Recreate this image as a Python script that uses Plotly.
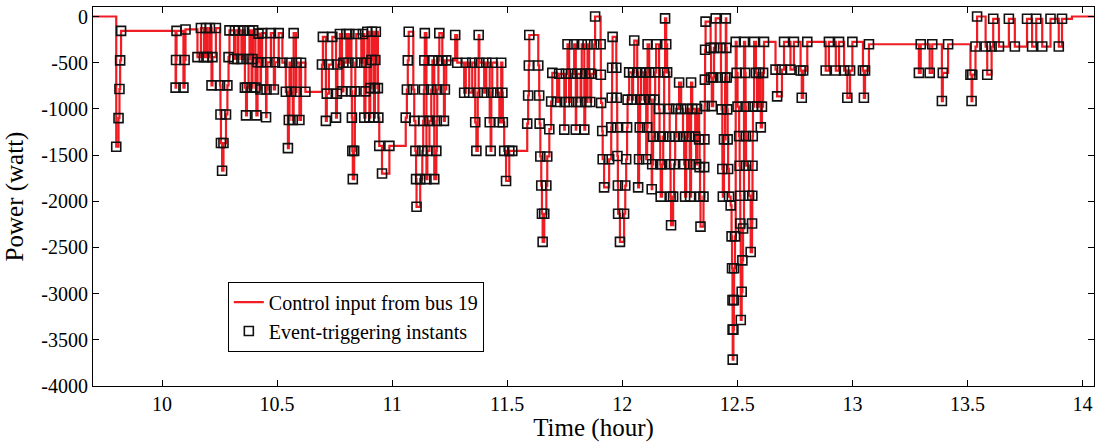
import plotly.graph_objects as go

# Event-triggering instants of the control input (hour, watt), one row per burst
trigger_hour = [
    9.801, 9.811, 9.815, 9.818, 9.822,
    10.059, 10.061, 10.063,
    10.093, 10.098, 10.102,
    10.154, 10.169,
    10.182, 10.191,
    10.198, 10.208,
    10.215, 10.219, 10.234,
    10.252, 10.254, 10.256, 10.261, 10.267, 10.278, 10.284, 10.289, 10.293,
    10.313, 10.317,
    10.328, 10.332,
    10.345, 10.352,
    10.360, 10.365, 10.369, 10.376, 10.380,
    10.389, 10.393, 10.396,
    10.406, 10.410, 10.415, 10.419,
    10.428, 10.430, 10.435,
    10.452, 10.454, 10.458, 10.473,
    10.486, 10.491, 10.507,
    10.523, 10.538, 10.547, 10.551, 10.554, 10.561, 10.568, 10.572, 10.582, 10.584, 10.597, 10.604, 10.623,
    10.695, 10.699,
    10.712, 10.716, 10.725, 10.740,
    10.756, 10.760, 10.762, 10.773,
    10.782, 10.788, 10.801,
    10.810, 10.814,
    10.823, 10.825, 10.827, 10.829, 10.835, 10.838, 10.840, 10.844,
    10.866, 10.873,
    10.879, 10.884, 10.888, 10.892,
    10.901, 10.905, 10.910, 10.912,
    10.921, 10.925, 10.927, 10.929,
    10.938, 10.940, 10.944, 10.956, 10.988,
    11.059, 11.064, 11.068, 11.072,
    11.092, 11.096, 11.101, 11.104, 11.106, 11.122, 11.131, 11.135, 11.138, 11.140, 11.142,
    11.149, 11.153, 11.162, 11.170, 11.175,
    11.183, 11.192, 11.194, 11.196, 11.201, 11.205,
    11.218, 11.225, 11.229, 11.235, 11.274,
    11.283, 11.313, 11.320, 11.335, 11.348, 11.361, 11.366, 11.372, 11.376, 11.379, 11.400, 11.409,
    11.424, 11.428, 11.431, 11.435, 11.457, 11.466, 11.474, 11.479, 11.481, 11.487, 11.495, 11.509, 11.522,
    11.587, 11.591, 11.594, 11.596,
    11.635, 11.639, 11.641, 11.644, 11.648, 11.651, 11.654, 11.661, 11.670, 11.674, 11.683, 11.691, 11.696,
    11.717, 11.726, 11.748, 11.750, 11.755, 11.762, 11.769, 11.777, 11.791, 11.798, 11.800, 11.804,
    11.819, 11.822, 11.824, 11.835, 11.839, 11.845, 11.849, 11.856, 11.861, 11.865, 11.878, 11.882,
    11.906, 11.907, 11.908, 11.913, 11.915, 11.921, 11.943, 11.952, 11.954, 11.956, 11.958, 11.974,
    11.976, 11.978, 11.979, 11.981, 11.982, 11.990, 12.008, 12.013, 12.017, 12.021, 12.023, 12.030,
    12.043, 12.047, 12.052,
    12.065, 12.069, 12.073, 12.076, 12.078, 12.082,
    12.095, 12.099, 12.104, 12.108, 12.110,
    12.117, 12.121, 12.128, 12.130, 12.134, 12.139, 12.143, 12.147,
    12.160, 12.162, 12.165, 12.167, 12.173, 12.178, 12.182, 12.186,
    12.191, 12.195, 12.204, 12.206, 12.208, 12.210, 12.212, 12.221, 12.225, 12.230, 12.234,
    12.247, 12.256, 12.264, 12.269, 12.273, 12.278, 12.282, 12.291, 12.293, 12.295, 12.299, 12.304, 12.317, 12.321, 12.325,
    12.334, 12.336, 12.338, 12.340, 12.353, 12.356, 12.357, 12.358, 12.359, 12.360, 12.362,
    12.384, 12.386, 12.389, 12.395, 12.399, 12.406,
    12.427, 12.429, 12.432, 12.435, 12.437, 12.442, 12.447, 12.450,
    12.452, 12.454, 12.456, 12.458, 12.460, 12.464, 12.471, 12.475, 12.477, 12.479, 12.4795, 12.480,
    12.483, 12.485, 12.486, 12.490, 12.493,
    12.497, 12.501, 12.508, 12.510, 12.512, 12.513, 12.515, 12.519, 12.522, 12.525, 12.529,
    12.534, 12.536, 12.537, 12.538, 12.551, 12.558, 12.564, 12.565, 12.566, 12.567, 12.568, 12.573,
    12.581, 12.586, 12.594, 12.602, 12.607, 12.612, 12.616,
    12.666, 12.673, 12.694, 12.703,
    12.731, 12.746,
    12.775, 12.780, 12.786, 12.804,
    12.884, 12.898,
    12.928, 12.942,
    12.964, 12.978, 12.990, 13.000,
    13.046, 13.050, 13.055, 13.072,
    13.289, 13.297,
    13.336, 13.347,
    13.389, 13.393, 13.416,
    13.513, 13.518, 13.521, 13.535, 13.542,
    13.579, 13.586, 13.605, 13.612,
    13.637, 13.680,
    13.706, 13.759,
    13.781, 13.799,
    13.825, 13.861,
    13.897, 13.911,
]

trigger_watt = [
    -1410, -1100, -785, -475, -155,
    -770, -470, -155,
    -770, -470, -140,
    -440, -125,
    -440, -125,
    -440, -125,
    -745, -440, -125,
    -745, -1060, -1370, -1670, -1370, -1060, -745, -440, -150,
    -460, -150,
    -460, -150,
    -460, -150,
    -770, -1070, -770, -460, -150,
    -770, -460, -150,
    -770, -1070, -495, -185,
    -790, -495, -180,
    -1090, -790, -495, -180,
    -790, -495, -180,
    -500, -815, -1425, -1120, -500, -815, -1120, -180, -815, -500, -1120, -500, -815,
    -520, -220,
    -1130, -835, -520, -220,
    -1095, -835, -520, -190,
    -810, -500, -190,
    -500, -190,
    -810, -1095, -1455, -1760, -1455, -810, -500, -190,
    -500, -190,
    -1095, -810, -500, -165,
    -1095, -775, -470, -165,
    -1095, -775, -470, -165,
    -775, -1095, -1400, -1700, -1400,
    -1095, -790, -475, -165,
    -790, -1130, -1455, -1760, -2060, -1760, -1455, -1130, -790, -475, -180,
    -1760, -1455, -1130, -790, -475,
    -1760, -1455, -1130, -790, -475, -180,
    -475, -1130, -790, -475, -200,
    -500, -825, -500, -825, -500, -1145, -1455, -825, -200, -500, -825, -500,
    -1145, -1455, -825, -500, -825, -1145, -500, -825, -1145, -1455, -1780, -1455, -1455,
    -1160, -855, -530, -200,
    -530, -855, -1160, -1515, -1830, -2135, -2440, -2135, -1830, -1515, -1220, -920, -610,
    -925, -620, -1225, -925, -620, -300, -925, -620, -300, -1225, -925, -620,
    -925, -620, -300, -1225, -620, -925, -300, -620, -925, -620, -300, 0,
    -300, -630, -935, -1240, -1545, -1850, -1545, -1200, -880, -555, -220, -555,
    -880, -1200, -1510, -1830, -2135, -2440, -2135, -1830, -1545, -1200, -900, -605,
    -900, -605, -260,
    -605, -1850, -1545, -1200, -900, -605,
    -900, -605, -1545, -1200, -300,
    -605, -900, -1870, -1600, -1300, -900, -605, -300,
    -1000, -1300, -1600, -1950, -1600, -1300, -605, -20,
    -300, -605, -1000, -1300, -1600, -1950, -2260, -1950, -1600, -1300, -1000,
    -715, -1000, -1300, -1600, -1950, -1300, -1000, -1300, -1600, -1950, -715, -1000, -1300, -1600, -1000,
    -1330, -1630, -1950, -2275, -1950, -1630, -1330, -970, -683, -360, -55,
    -340, -660, -970, -660, -340, -20,
    -340, -660, -1005, -1650, -1950, -1330, -660, -20,
    -340, -660, -1005, -1330, -1650, -1950, -2045, -2380, -2725, -3070, -3390, -3715,
    -3390, -3070, -2725, -2380, -275,
    -610, -975, -1295, -1615, -1940, -2240, -3285, -2980, -2640, -2295, -275,
    -610, -975, -1295, -1615, -1940, -2550, -2240, -1940, -1615, -1295, -975, -275,
    -610, -975, -610, -1200, -975, -610, -275,
    -575, -865, -575, -275,
    -575, -275,
    -585, -880, -585, -275,
    -585, -275,
    -585, -275,
    -585, -880, -585, -275,
    -585, -880, -585, -300,
    -610, -300,
    -610, -300,
    -915, -610, -300,
    -630, -915, -630, -325, 0,
    -325, -630, -325, -25,
    -325, -25,
    -325, -25,
    -325, -25,
    -325, -25,
    -325, -25,
]

assert len(trigger_hour) == len(trigger_watt)

# Held value before the first event and after the last one
lead_hour = [9.70]
lead_watt = [0]
tail_hour = [13.954, 14.05]
tail_watt = [0, 0]

x_tick_vals = [10, 10.5, 11, 11.5, 12, 12.5, 13, 13.5, 14]
x_tick_text = ["10", "10.5", "11", "11.5", "12", "12.5", "13", "13.5", "14"]
y_tick_vals = [0, -500, -1000, -1500, -2000, -2500, -3000, -3500, -4000]
y_tick_text = ["0", "-500", "-1000", "-1500", "-2000", "-2500", "-3000", "-3500", "-4000"]

serif = "Liberation Serif"

fig = go.Figure()

fig.add_trace(go.Scatter(
    x=lead_hour + trigger_hour + tail_hour,
    y=lead_watt + trigger_watt + tail_watt,
    mode="lines",
    line=dict(color="rgb(240,30,36)", width=2.2, shape="hv"),
    name="Control input from bus 19",
))

fig.add_trace(go.Scatter(
    x=trigger_hour,
    y=trigger_watt,
    mode="markers",
    marker=dict(symbol="square-open", size=9, color="#111111",
                line=dict(width=1.6, color="#111111")),
    name="Event-triggering instants",
))

axis_common = dict(
    ticks="inside", ticklen=6, tickwidth=1, tickcolor="black",
    showline=True, linecolor="black", linewidth=1, mirror="allticks",
    showgrid=False, zeroline=False,
    tickfont=dict(family=serif, size=20, color="black"),
)

fig.update_layout(
    width=1100, height=442,
    margin=dict(l=93, r=5, t=7, b=54),
    paper_bgcolor="white", plot_bgcolor="white",
    font=dict(family=serif, color="black"),
    xaxis=dict(range=[9.70, 14.05], tickmode="array",
               tickvals=x_tick_vals, ticktext=x_tick_text,
               title=dict(text="Time (hour)", standoff=4,
                          font=dict(family=serif, size=25, color="black")),
               **axis_common),
    yaxis=dict(range=[-4000, 103], tickmode="array",
               tickvals=y_tick_vals, ticktext=y_tick_text,
               title=dict(text="Power (watt)", standoff=10,
                          font=dict(family=serif, size=25, color="black")),
               **axis_common),
    legend=dict(x=0.1347, y=0.2756, xanchor="left", yanchor="top",
                bgcolor="white", bordercolor="black", borderwidth=1,
                font=dict(family=serif, size=20, color="black"),
                itemwidth=30, tracegroupgap=0),
    showlegend=True,
)

fig.write_html("out.html")
